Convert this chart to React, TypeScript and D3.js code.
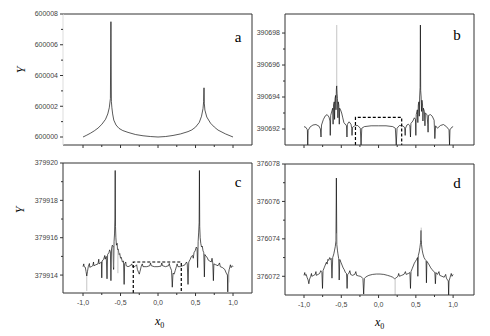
import React from "react";
import * as d3 from "d3";

type Pt = [number, number];
type Spike = [number, number, number]; // x, from, to (gray strokes)

// ---- data ----
const xMajor = [-1, -0.5, 0, 0.5, 1];
const xMinor = [-0.75, -0.25, 0.25, 0.75];
const xTickLabels = ["-1,0", "-0,5", "0,0", "0,5", "1,0"];

const aYTicks = [600000, 600002, 600004, 600006, 600008];
const aYMinor = [600001, 600003, 600005, 600007];
const bYTicks = [390692, 390694, 390696, 390698];
const bYMinor = [390693, 390695, 390697];
const cYTicks = [379914, 379916, 379918, 379920];
const cYMinor = [379915, 379917, 379919];
const dYTicks = [376072, 376074, 376076, 376078];
const dYMinor = [376073, 376075, 376077];

const aLine: Pt[] = [
  [-1.0, 600000.0], [-0.95, 600000.12], [-0.9, 600000.25], [-0.85, 600000.4],
  [-0.8, 600000.58], [-0.75, 600000.82], [-0.7, 600001.15], [-0.67, 600001.5],
  [-0.65, 600001.9], [-0.635, 600002.5], [-0.628, 600007.5], [-0.622, 600002.3],
  [-0.615, 600001.9], [-0.605, 600001.5], [-0.59, 600001.1], [-0.56, 600000.78],
  [-0.52, 600000.56], [-0.47, 600000.42], [-0.4, 600000.3], [-0.3, 600000.16],
  [-0.2, 600000.08], [-0.1, 600000.03], [0.0, 600000.0], [0.1, 600000.03],
  [0.2, 600000.1], [0.3, 600000.2], [0.4, 600000.35], [0.45, 600000.46],
  [0.5, 600000.64], [0.55, 600000.95], [0.58, 600001.35], [0.6, 600001.85],
  [0.608, 600002.3], [0.613, 600003.2], [0.617, 600002.2], [0.625, 600001.75],
  [0.65, 600001.3], [0.7, 600000.9], [0.75, 600000.65], [0.8, 600000.45],
  [0.9, 600000.2], [1.0, 600000.0],
];

const bLine: Pt[] = [
  [-1.0, 390692.15], [-0.975, 390692.1], [-0.955, 390691.95], [-0.95, 390691.0],
  [-0.945, 390691.9], [-0.92, 390692.12], [-0.88, 390692.25], [-0.84, 390692.28],
  [-0.8, 390692.18], [-0.78, 390692.0], [-0.772, 390691.5], [-0.765, 390692.25],
  [-0.74, 390692.6], [-0.715, 390692.82], [-0.69, 390692.9], [-0.665, 390692.75],
  [-0.652, 390692.5], [-0.648, 390691.6], [-0.642, 390692.85], [-0.625, 390693.15],
  [-0.615, 390693.3], [-0.61, 390692.3], [-0.604, 390693.5], [-0.595, 390693.7],
  [-0.59, 390692.6], [-0.584, 390693.9], [-0.576, 390694.1], [-0.571, 390693.2],
  [-0.566, 390694.5], [-0.561, 390694.7], [-0.556, 390694.2], [-0.551, 390693.9],
  [-0.546, 390692.7], [-0.541, 390693.7], [-0.533, 390693.5], [-0.527, 390692.3],
  [-0.522, 390693.3], [-0.51, 390693.2], [-0.495, 390693.0], [-0.48, 390692.7],
  [-0.465, 390692.4], [-0.43, 390692.2], [-0.424, 390691.5], [-0.418, 390692.3],
  [-0.395, 390692.45], [-0.37, 390692.3], [-0.36, 390692.05], [-0.356, 390691.6],
  [-0.35, 390692.1], [-0.32, 390692.2], [-0.28, 390692.22], [-0.245, 390692.05],
  [-0.235, 390691.0], [-0.225, 390692.05], [-0.19, 390692.15], [-0.1, 390692.2],
  [0.0, 390692.2], [0.1, 390692.2], [0.19, 390692.15], [0.225, 390692.05],
  [0.237, 390691.0], [0.248, 390692.05], [0.28, 390692.22], [0.32, 390692.2],
  [0.35, 390692.1], [0.357, 390691.6], [0.362, 390692.05], [0.38, 390692.25],
  [0.4, 390692.3], [0.42, 390692.2], [0.428, 390691.5], [0.434, 390692.35],
  [0.46, 390692.5], [0.48, 390692.7], [0.495, 390692.6], [0.5, 390691.6],
  [0.505, 390692.9], [0.52, 390693.2], [0.527, 390692.4], [0.533, 390693.5],
  [0.541, 390693.7], [0.546, 390692.8], [0.551, 390694.0], [0.557, 390694.6],
  [0.561, 390698.5], [0.565, 390694.4], [0.571, 390694.0], [0.576, 390693.1],
  [0.582, 390693.8], [0.59, 390693.5], [0.595, 390692.5], [0.601, 390693.3],
  [0.615, 390693.1], [0.622, 390692.2], [0.628, 390693.0], [0.65, 390692.9],
  [0.66, 390692.3], [0.664, 390691.8], [0.67, 390692.85], [0.695, 390692.9],
  [0.72, 390692.8], [0.745, 390692.55], [0.755, 390691.4], [0.765, 390692.2],
  [0.79, 390692.05], [0.83, 390692.22], [0.87, 390692.28], [0.91, 390692.15],
  [0.945, 390691.95], [0.952, 390691.0], [0.958, 390691.95], [0.98, 390692.1],
  [1.0, 390692.15],
];
const bGray: Spike[] = [[-0.561, 390694.7, 390698.5]];

const cLine: Pt[] = [
  [-1.0, 379914.45], [-0.99, 379914.6], [-0.985, 379914.45], [-0.97, 379914.42],
  [-0.96, 379914.2], [-0.95, 379913.95], [-0.94, 379914.2], [-0.93, 379914.45],
  [-0.915, 379914.62], [-0.91, 379914.42], [-0.89, 379914.45], [-0.87, 379914.5],
  [-0.86, 379914.7], [-0.855, 379914.5], [-0.83, 379914.55], [-0.8, 379914.6],
  [-0.79, 379914.85], [-0.785, 379914.6], [-0.77, 379914.65], [-0.755, 379914.7],
  [-0.75, 379913.85], [-0.745, 379914.75], [-0.725, 379914.85], [-0.71, 379915.05],
  [-0.705, 379914.85], [-0.69, 379915.0], [-0.68, 379913.8], [-0.672, 379915.1],
  [-0.655, 379915.2], [-0.645, 379915.35], [-0.635, 379915.25], [-0.628, 379913.7],
  [-0.62, 379915.4], [-0.61, 379915.6], [-0.6, 379915.55], [-0.592, 379914.3],
  [-0.586, 379915.8], [-0.58, 379916.2], [-0.575, 379917.0], [-0.571, 379919.6],
  [-0.567, 379916.6], [-0.562, 379916.0], [-0.555, 379915.6], [-0.545, 379915.7],
  [-0.54, 379915.35], [-0.53, 379915.4], [-0.52, 379915.1], [-0.51, 379915.15],
  [-0.5, 379914.9], [-0.49, 379914.95], [-0.475, 379914.7], [-0.46, 379914.75],
  [-0.452, 379913.5], [-0.445, 379914.6], [-0.43, 379914.7], [-0.425, 379914.5],
  [-0.4, 379914.45], [-0.37, 379914.5], [-0.35, 379914.6], [-0.34, 379914.45],
  [-0.31, 379914.45], [-0.285, 379914.55], [-0.275, 379914.3], [-0.26, 379914.15],
  [-0.25, 379914.05], [-0.24, 379914.2], [-0.225, 379914.45], [-0.21, 379914.6],
  [-0.2, 379914.45], [-0.15, 379914.45], [-0.11, 379914.5], [-0.1, 379914.65],
  [-0.09, 379914.5], [-0.05, 379914.45], [0.0, 379914.45], [0.04, 379914.48],
  [0.05, 379914.65], [0.06, 379914.5], [0.1, 379914.45], [0.14, 379914.5],
  [0.15, 379914.62], [0.16, 379914.45], [0.18, 379914.25], [0.19, 379913.35],
  [0.2, 379914.1], [0.215, 379914.05], [0.23, 379914.25], [0.245, 379914.45],
  [0.255, 379914.6], [0.265, 379914.45], [0.3, 379914.45], [0.33, 379914.5],
  [0.36, 379914.55], [0.38, 379914.7], [0.39, 379914.6], [0.4, 379913.5],
  [0.41, 379914.7], [0.43, 379914.85], [0.445, 379915.0], [0.46, 379915.05],
  [0.47, 379914.9], [0.48, 379915.2], [0.495, 379915.3], [0.51, 379915.5],
  [0.52, 379915.45], [0.528, 379914.4], [0.535, 379915.8], [0.542, 379916.3],
  [0.548, 379916.8], [0.552, 379919.6], [0.556, 379916.6], [0.562, 379916.0],
  [0.57, 379915.7], [0.58, 379915.5], [0.59, 379915.55], [0.6, 379915.3],
  [0.61, 379915.2], [0.618, 379913.9], [0.625, 379915.1], [0.64, 379915.0],
  [0.655, 379914.95], [0.67, 379914.8], [0.69, 379914.75], [0.71, 379914.7],
  [0.72, 379914.9], [0.73, 379914.65], [0.738, 379913.7], [0.745, 379914.6],
  [0.77, 379914.55], [0.8, 379914.5], [0.82, 379914.65], [0.83, 379914.45],
  [0.86, 379914.4], [0.89, 379914.3], [0.91, 379914.1], [0.925, 379914.0],
  [0.93, 379913.1], [0.935, 379914.05], [0.95, 379914.3], [0.965, 379914.55],
  [0.975, 379914.4], [0.99, 379914.5], [1.0, 379914.45],
];
const cGray: Spike[] = [
  [-0.95, 379913.95, 379913.15], [-0.535, 379915.4, 379914.1],
  [-0.597, 379915.5, 379914.4], [0.945, 379914.3, 379913.6],
];

const dLine: Pt[] = [
  [-1.0, 376072.05], [-0.99, 376072.2], [-0.985, 376072.05], [-0.97, 376072.1],
  [-0.96, 376071.95], [-0.945, 376071.8], [-0.935, 376071.6], [-0.925, 376071.85],
  [-0.91, 376072.0], [-0.9, 376072.15], [-0.895, 376072.0], [-0.87, 376072.05],
  [-0.85, 376072.1], [-0.84, 376072.25], [-0.835, 376072.05], [-0.81, 376072.1],
  [-0.79, 376072.15], [-0.775, 376072.3], [-0.76, 376072.2], [-0.752, 376071.35],
  [-0.745, 376072.3], [-0.73, 376072.45], [-0.715, 376072.6], [-0.7, 376072.75],
  [-0.69, 376072.65], [-0.68, 376072.9], [-0.67, 376072.85], [-0.655, 376073.0],
  [-0.645, 376072.9], [-0.635, 376072.95], [-0.625, 376071.9], [-0.615, 376073.0],
  [-0.6, 376073.2], [-0.59, 376073.4], [-0.58, 376073.6], [-0.572, 376073.9],
  [-0.566, 376077.25], [-0.56, 376073.7], [-0.552, 376073.4], [-0.545, 376073.2],
  [-0.535, 376072.95], [-0.528, 376071.8], [-0.52, 376072.9], [-0.505, 376072.75],
  [-0.49, 376072.6], [-0.475, 376072.45], [-0.46, 376072.35], [-0.445, 376072.2],
  [-0.43, 376072.15], [-0.422, 376071.35], [-0.415, 376072.1], [-0.4, 376072.15],
  [-0.385, 376072.3], [-0.375, 376072.1], [-0.35, 376072.05], [-0.32, 376072.1],
  [-0.305, 376072.25], [-0.295, 376072.05], [-0.27, 376072.02], [-0.245, 376072.0],
  [-0.225, 376071.95], [-0.21, 376071.88], [-0.2, 376071.05], [-0.19, 376071.88],
  [-0.175, 376071.95], [-0.155, 376072.0], [-0.13, 376072.05], [-0.08, 376072.1],
  [-0.03, 376072.12], [0.02, 376072.12], [0.07, 376072.1], [0.12, 376072.05],
  [0.16, 376072.0], [0.19, 376071.95], [0.205, 376071.9], [0.215, 376071.87],
  [0.23, 376071.9], [0.245, 376071.95], [0.26, 376072.0], [0.27, 376072.15],
  [0.28, 376072.0], [0.31, 376072.05], [0.34, 376072.1], [0.36, 376072.25],
  [0.37, 376072.1], [0.4, 376072.15], [0.42, 376072.2], [0.428, 376071.35],
  [0.435, 376072.25], [0.45, 376072.4], [0.465, 376072.55], [0.48, 376072.7],
  [0.495, 376072.8], [0.51, 376072.9], [0.522, 376073.0], [0.527, 376072.0],
  [0.533, 376073.1], [0.545, 376073.3], [0.555, 376073.55], [0.563, 376073.8],
  [0.57, 376074.45], [0.576, 376073.7], [0.585, 376073.4], [0.595, 376073.2],
  [0.61, 376073.0], [0.625, 376072.9], [0.637, 376072.85], [0.642, 376071.65],
  [0.648, 376072.8], [0.665, 376072.7], [0.68, 376072.6], [0.7, 376072.45],
  [0.72, 376072.35], [0.74, 376072.25], [0.755, 376072.2], [0.762, 376071.6],
  [0.77, 376072.2], [0.79, 376072.1], [0.81, 376072.25], [0.82, 376072.05],
  [0.85, 376072.0], [0.88, 376071.95], [0.9, 376072.1], [0.91, 376071.9],
  [0.925, 376071.8], [0.935, 376071.75], [0.94, 376071.0], [0.945, 376071.75],
  [0.96, 376071.95], [0.975, 376072.15], [0.985, 376072.0], [1.0, 376072.1],
];
const dGray: Spike[] = [
  [0.222, 376071.87, 376071.0], [0.572, 376073.9, 376074.6], [-0.57, 376073.8, 376074.3],
];

// dashed zoom boxes: [x0, x1, top]
const bBox = [-0.31, 0.31, 390692.73];
const cBox = [-0.33, 0.31, 379914.7];

const SANS = "'Liberation Sans', Arial, sans-serif";
const SERIF = "'Liberation Serif', 'Times New Roman', serif";

type PanelProps = {
  l: number; r: number; t: number; b: number;
  xDomain: [number, number];
  yDomain: [number, number];
  yTicks: number[]; yMinor: number[];
  line: Pt[]; gray?: Spike[];
  box?: number[];
  letter: string; lx: number; ly: number;
  xLabels: boolean;
  leftColor?: string;
};

function Panel(p: PanelProps) {
  const x = d3.scaleLinear().domain(p.xDomain).range([p.l, p.r]);
  const y = d3.scaleLinear().domain(p.yDomain).range([p.b, p.t]);
  const line = d3.line<Pt>().x(d => x(d[0])).y(d => y(d[1]));
  const frame = "#333";
  return (
    <g>
      <path d={line(p.line) ?? ""} fill="none" stroke="#000" strokeWidth={0.65} />
      {(p.gray ?? []).map((s, i) => (
        <line key={i} x1={x(s[0])} x2={x(s[0])} y1={y(s[1])} y2={y(s[2])}
          stroke="#aaa" strokeWidth={0.7} />
      ))}
      {p.box && (
        <path
          d={`M${x(p.box[0])},${p.b}V${y(p.box[2])}H${x(p.box[1])}V${p.b}`}
          fill="none" stroke="#000" strokeWidth={1.2} strokeDasharray="3,2" />
      )}
      <line x1={p.l} x2={p.r} y1={p.t} y2={p.t} stroke={frame} strokeWidth={1} />
      <line x1={p.r} x2={p.r} y1={p.t} y2={p.b} stroke={frame} strokeWidth={1} />
      <line x1={p.l} x2={p.r} y1={p.b} y2={p.b} stroke={frame} strokeWidth={1} />
      <line x1={p.l} x2={p.l} y1={p.t} y2={p.b} stroke={p.leftColor ?? frame} strokeWidth={1} />
      {p.yTicks.map(v => (
        <g key={v}>
          <line x1={p.l - 3} x2={p.l} y1={y(v)} y2={y(v)} stroke={frame} />
          <text x={p.l - 5} y={y(v)} dy="0.35em" textAnchor="end"
            fontFamily={SANS} fontSize={7} fill="#444">{v}</text>
        </g>
      ))}
      {p.yMinor.map(v => (
        <line key={v} x1={p.l - 2} x2={p.l} y1={y(v)} y2={y(v)} stroke={frame} />
      ))}
      {xMajor.map((v, i) => (
        <g key={v}>
          <line x1={x(v)} x2={x(v)} y1={p.b} y2={p.b + 3} stroke={frame} />
          {p.xLabels && (
            <text x={x(v)} y={p.b + 12} textAnchor="middle"
              fontFamily={SANS} fontSize={7} fill="#444">{xTickLabels[i]}</text>
          )}
        </g>
      ))}
      {xMinor.map(v => (
        <line key={v} x1={x(v)} x2={x(v)} y1={p.b} y2={p.b + 2} stroke={frame} />
      ))}
      <text x={p.lx} y={p.ly} textAnchor="middle" fontFamily={SERIF} fontSize={15} fill="#000">
        {p.letter}
      </text>
    </g>
  );
}

export default function App() {
  const xAC: [number, number] = [-1.267, 1.253];
  const xBD: [number, number] = [-1.255, 1.28];
  return (
    <svg width={490} height={336} style={{ position: "fixed", left: 0, top: 0, background: "#fff" }}>
      <rect width={490} height={336} fill="#fff" />
      <Panel l={63} r={252} t={14} b={145} xDomain={xAC} yDomain={[599999.48, 600008]}
        yTicks={aYTicks} yMinor={aYMinor} line={aLine} letter="a" lx={238} ly={42}
        xLabels={false} leftColor="#ddd" />
      <Panel l={285} r={474} t={14} b={145} xDomain={xBD} yDomain={[390691, 390699.19]}
        yTicks={bYTicks} yMinor={bYMinor} line={bLine} gray={bGray} box={bBox}
        letter="b" lx={457} ly={40} xLabels={false} />
      <Panel l={63} r={252} t={163} b={293} xDomain={xAC} yDomain={[379913.04, 379920]}
        yTicks={cYTicks} yMinor={cYMinor} line={cLine} gray={cGray} box={cBox}
        letter="c" lx={238} ly={187} xLabels={true} />
      <Panel l={285} r={474} t={164} b={295} xDomain={xBD} yDomain={[376071, 376078]}
        yTicks={dYTicks} yMinor={dYMinor} line={dLine} gray={dGray}
        letter="d" lx={457} ly={188} xLabels={true} />
      <text transform="translate(25,70) rotate(-90)" textAnchor="middle"
        fontFamily={SERIF} fontStyle="italic" fontSize={12}>Y</text>
      <text transform="translate(24,210) rotate(-90)" textAnchor="middle"
        fontFamily={SERIF} fontStyle="italic" fontSize={12}>Y</text>
      <text x={155} y={325} fontFamily={SERIF} fontStyle="italic" fontSize={12}>
        x<tspan fontSize={8} fontStyle="normal" dy={3}>0</tspan>
      </text>
      <text x={375} y={326} fontFamily={SERIF} fontStyle="italic" fontSize={12}>
        x<tspan fontSize={8} fontStyle="normal" dy={3}>0</tspan>
      </text>
    </svg>
  );
}
